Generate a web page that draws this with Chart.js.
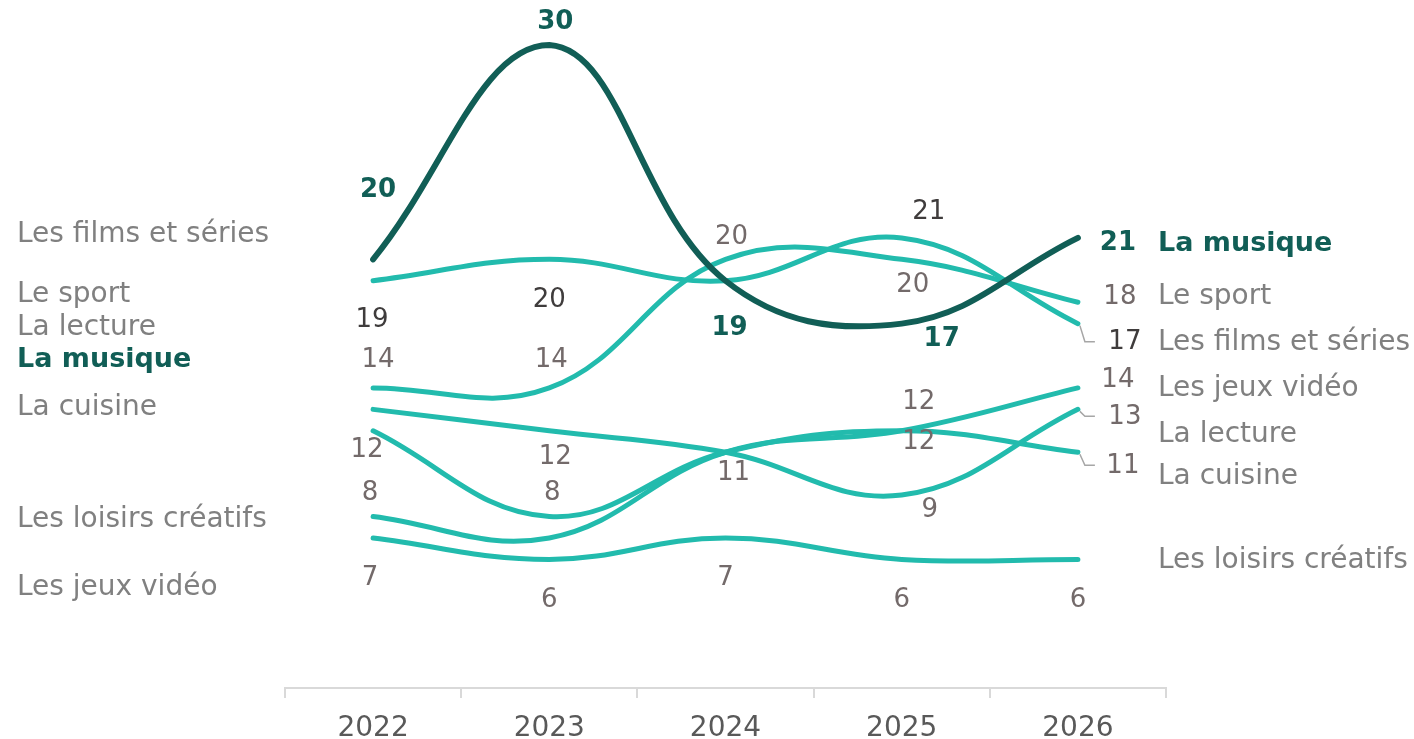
<!DOCTYPE html>
<html>
<head>
<meta charset="utf-8">
<script src="https://cdn.jsdelivr.net/npm/chart.js@4"></script>
<style>
  body { margin: 0; background: #fff; }
  #wrap { width: 1414px; height: 739px; }
</style>
</head>
<body>
<div id="wrap"><canvas id="chart"></canvas></div>
<script>
const years = ['2022', '2023', '2024', '2025', '2026'];
const seriesNames = ['La musique', 'Les films et séries', 'Le sport', 'La lecture', 'La cuisine', 'Les jeux vidéo', 'Les loisirs créatifs'];
const musique = [20, 30, 19, 17, 21];
const films = [19, 20, 19, 21, 17];
const sport = [14, 14, 20, 20, 18];
const lecture = [13, 12, 11, 9, 13];
const cuisine = [12, 8, 11, 12, 11];
const jeux = [8, 7, 11, 12, 14];
const loisirs = [7, 6, 7, 6, 6];
const seriesValues = [musique, films, sport, lecture, cuisine, jeux, loisirs];

// names down the left edge, top to bottom, as they sit in the source
const leftNames = ['Les films et séries', 'Le sport', 'La lecture', 'La musique', 'La cuisine', 'Les loisirs créatifs', 'Les jeux vidéo'];

const DARK = '#115e56';
const TEAL = '#22bbad';
const FONT = '"DejaVu Sans", sans-serif';

// layout only: where each value label sits relative to its point [dx, dy], null = not shown
const labelOffsets = [
  [[5, -69], [6, -23], [4, 47], [40, 16], [40, 5]],
  [[-1, 39], [0, 41], null, [27, -26], [47, 19]],
  [[5, -28], [2, -28], [6, -22], [11, 26], [42, -5]],
  [null, [6, 26], [8, 21], [28, 15], [47, 8]],
  [[-6, 19], [3, -23], null, [17, 11], [45, 14]],
  [[-3, -23], null, null, [17, -29], [40, -8]],
  [[-3, 40], [0, 41], [0, 40], [0, 41], [0, 41]]
];
const labelColors = [DARK, '#3f3c3c', '#736a6a', '#736a6a', '#736a6a', '#736a6a', '#736a6a'];
const rightNameDy = [6, 19, -5, 25, 24, 1, 1];
const leaderLines = [false, true, false, true, true, false, false];
const leftNameY = [235, 295, 328, 360, 408, 520, 588];

const textPlugin = {
  id: 'textPlugin',
  afterDatasetsDraw(chart) {
    const ctx = chart.ctx;
    const xs = chart.scales.x, ys = chart.scales.y;
    ctx.save();
    ctx.textBaseline = 'middle';

    // value labels
    ctx.textAlign = 'center';
    seriesValues.forEach((vals, s) => {
      ctx.font = (s === 0 ? 'bold ' : '') + '26px ' + FONT;
      ctx.fillStyle = labelColors[s];
      vals.forEach((v, i) => {
        const off = labelOffsets[s][i];
        if (!off) return;
        ctx.fillText(String(v), xs.getPixelForValue(i) + off[0], ys.getPixelForValue(v) + off[1]);
      });
    });

    // leader lines and names on the right
    const last = years.length - 1;
    const xEnd = xs.getPixelForValue(last);
    seriesValues.forEach((vals, s) => {
      const yEnd = ys.getPixelForValue(vals[last]);
      const off = labelOffsets[s][last];
      if (leaderLines[s]) {
        ctx.strokeStyle = '#a6a6a6';
        ctx.lineWidth = 1.5;
        ctx.beginPath();
        ctx.moveTo(xEnd + 2, yEnd + 2);
        ctx.lineTo(xEnd + 7, yEnd + off[1] - 1);
        ctx.lineTo(xEnd + 17, yEnd + off[1] - 1);
        ctx.stroke();
      }
      ctx.textAlign = 'left';
      ctx.font = (s === 0 ? 'bold 27px ' : '28px ') + FONT;
      ctx.fillStyle = s === 0 ? DARK : '#808080';
      ctx.fillText(seriesNames[s], 1158, yEnd + rightNameDy[s]);
    });

    // names on the left
    leftNames.forEach((name, k) => {
      const bold = name === seriesNames[0];
      ctx.font = (bold ? 'bold 27px ' : '28px ') + FONT;
      ctx.fillStyle = bold ? DARK : '#808080';
      ctx.fillText(name, 17, leftNameY[k]);
    });
    ctx.restore();
  }
};

new Chart(document.getElementById('chart'), {
  type: 'line',
  data: {
    labels: years,
    datasets: seriesValues.map((vals, s) => ({
      label: seriesNames[s],
      data: vals,
      borderColor: s === 0 ? DARK : TEAL,
      borderWidth: s === 0 ? 6 : 5,
      borderCapStyle: 'round',
      pointRadius: 0,
      tension: 0.4,
      fill: false,
      clip: false
    }))
  },
  options: {
    responsive: true,
    maintainAspectRatio: false,
    animation: false,
    layout: { padding: { left: 285, right: 248, top: 45, bottom: 0 } },
    plugins: { legend: { display: false }, tooltip: { enabled: false } },
    scales: {
      x: {
        offset: true,
        afterFit(scale) { scale.height = 51; },
        border: { display: true, color: '#d9d9d9', width: 2 },
        grid: { display: true, offset: true, drawOnChartArea: false, drawTicks: true, tickLength: 10, color: '#d9d9d9', lineWidth: 2 },
        ticks: { color: '#595959', font: { family: 'DejaVu Sans', size: 28 }, padding: 14 }
      },
      y: { display: false, min: 0, max: 30 }
    }
  },
  plugins: [textPlugin]
});
</script>
</body>
</html>
